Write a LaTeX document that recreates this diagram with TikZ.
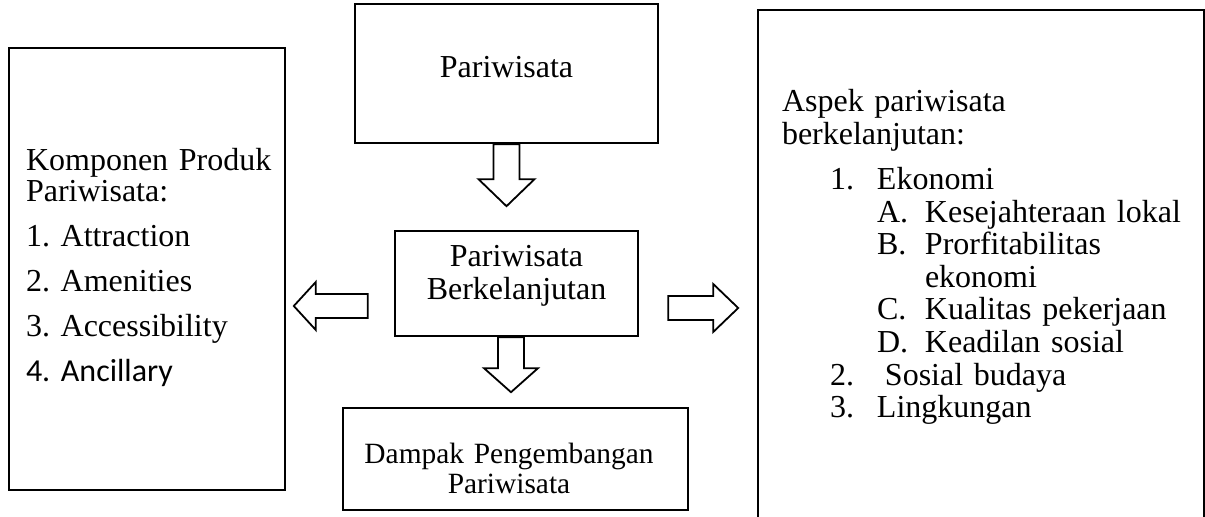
\documentclass[tikz,border=0pt]{standalone}
\usepackage{fontspec}
\setmainfont{Liberation Serif}
\newfontfamily\calibrifont{Carlito}
\usetikzlibrary{calc}
\frenchspacing

\begin{document}
\begin{tikzpicture}[x=0.5pt,y=-0.5pt]

  \tikzstyle{box}=[draw,line width=1.2pt,inner sep=0pt,font=\fontsize{16}{16}\selectfont]
  \tikzstyle{sidebox}=[box,line width=0.9pt,align=left]
  \tikzstyle{blockarrow}=[draw,line width=0.9pt,fill=white,line join=miter]

  % ====================
  % Parameters
  % ====================
  \def\shaftw{13}  % Half width of the arrow shafts
  \def\headw{28}   % Half width of the arrow heads
  % ====================

  \useasboundingbox (0,0) rectangle (1205,517);

  % ====================
  % Center column
  % ====================
  \node (pariwisata) [box,minimum width=151.5pt,minimum height=69.5pt,text height=4.5pt,text depth=0pt] at (506.5,73.5) {Pariwisata};

  \node (berkelanjutan) [box,minimum width=121.5pt,minimum height=52.5pt,text width=115pt,align=center,
    text height=0pt,text depth=16.5pt,font=\fontsize{16}{16.5}\selectfont] at (516.5,283.5) {Pariwisata\\Berkelanjutan};

  \node (dampak) [box,minimum width=172.5pt,minimum height=51pt,text width=165pt,align=center,
    text height=4.5pt,text depth=0pt,font=\fontsize{14.7}{15}\selectfont] at (515.5,459)
    {\hspace*{-6.5pt}Dampak Pengembangan\\\hspace*{-6.5pt}Pariwisata};

  % ====================
  % Side boxes
  % ====================
  \node (komponen) [sidebox,minimum width=138pt,minimum height=221pt,text width=121pt,
    text height=0pt,text depth=98pt,font=\fontsize{16}{15.5}\selectfont] at (147,269)
    {\mbox{Komponen Produk}\\Pariwisata:\\[7pt]1. Attraction\\[7pt]2. Amenities\\[7pt]3. Accessibility\\[7pt]{\calibrifont 4. Ancillary}};

  \node (aspek) [sidebox,minimum width=223pt,minimum height=270pt,text width=199pt,
    text height=0pt,text depth=168pt,font=\fontsize{16}{16.3}\selectfont] at (981,280)
    {Aspek pariwisata\\berkelanjutan:\\[6.2pt]
     \hspace*{24pt}\makebox[23.5pt][l]{1.}Ekonomi\\
     \hspace*{47.5pt}\makebox[24pt][l]{A.}\mbox{Kesejahteraan lokal}\\
     \hspace*{47.5pt}\makebox[24pt][l]{B.}Prorfitabilitas\\
     \hspace*{71.5pt}ekonomi\\
     \hspace*{47.5pt}\makebox[24pt][l]{C.}\mbox{Kualitas pekerjaan}\\
     \hspace*{47.5pt}\makebox[24pt][l]{D.}\mbox{Keadilan sosial}\\
     \hspace*{24pt}\makebox[27.5pt][l]{2.}\mbox{Sosial budaya}\\
     \hspace*{24pt}\makebox[23.5pt][l]{3.}Lingkungan};

  % ====================
  % Arrows
  % ====================
  % Pariwisata -> Berkelanjutan
  \draw[blockarrow] ($(pariwisata.south)+(-\shaftw,0)$) -- ++(0,35) -- ++(-15,0) -- ++(\headw,27) -- ++(\headw,-27) -- ++(-15,0) -- ++(0,-35) -- cycle;

  % Berkelanjutan -> Dampak
  \draw[blockarrow] ($(berkelanjutan.south)+(-18.5,0)$) -- ++(0,31) -- ++(-14,0) -- ++(27,24) -- ++(27,-24) -- ++(-14,0) -- ++(0,-31) -- cycle;

  % Berkelanjutan -> Komponen
  \draw[blockarrow] ($(berkelanjutan.west)+(-26,10.5)$) -- ++(-52,0) -- ++(0,-12) -- ++(-22,24) -- ++(22,24) -- ++(0,-12) -- ++(52,0) -- cycle;

  % Berkelanjutan -> Aspek
  \draw[blockarrow] ($(berkelanjutan.east)+(29,12.5)$) -- ++(45,0) -- ++(0,-12) -- ++(25,24) -- ++(-25,24) -- ++(0,-12) -- ++(-45,0) -- cycle;
\end{tikzpicture}
\end{document}
